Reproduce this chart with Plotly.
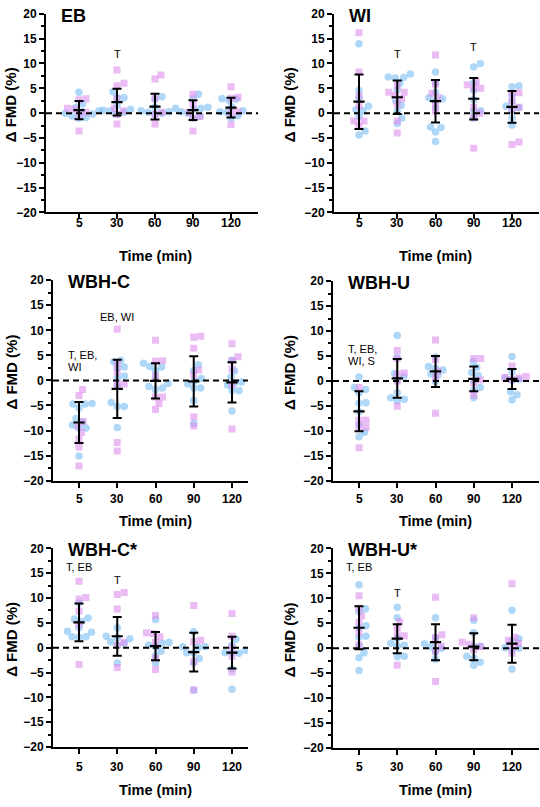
import plotly.graph_objects as go

# ---------------- data ----------------
times = ["5", "30", "60", "90", "120"]
panel_names = ["EB", "WI", "WBH-C", "WBH-U", "WBH-C*", "WBH-U*"]

eb_blue = [[4.2, 1.9, 1.2, 0.5, 0.3, 0.0, -0.2, -0.6, -0.9, -1.0],
           [4.3, 3.1, 3.1, 1.6, 0.8, 0.6, 0.5, 0.2, -0.2],
           [3.3, 2.8, 1.2, 1.0, 0.5, 0.3, 0.2, 0.0, -0.2],
           [3.8, 2.9, 1.2, 1.0, 0.8, 0.3, 0.0, -0.6, -1.0],
           [2.9, 2.8, 2.6, 1.3, 0.5, 0.3, 0.2, -0.5, -1.0]]
eb_pink = [[2.9, 2.7, 1.0, 0.8, 0.2, -0.3, -3.6],
           [8.7, 6.0, 5.5, 2.9, 1.0, 0.5, -0.3, -2.2],
           [7.7, 6.9, 3.0, 0.2, -0.3, -2.2],
           [3.8, 1.8, 0.2, -0.7, -1.0, -3.6],
           [5.3, 3.2, 3.0, 0.3, 0.1, -2.3]]
eb_mean = [0.6, 2.2, 1.3, 0.6, 1.1]
eb_sd = [1.85, 2.7, 2.6, 2.0, 2.0]

wi_blue = [[14.0, 4.6, 3.1, 1.4, 0.7, 0.5, -0.7, -3.6, -4.4],
           [7.9, 7.3, 7.2, 7.1, 6.0, 4.7, 2.5, 1.6, 0.4, -1.0, -2.1],
           [8.3, 6.1, 4.2, 3.1, 2.9, 2.5, 1.1, -2.8, -2.9, -3.8, -5.7],
           [10.0, 9.3, 6.1, 4.6, 2.7, 0.5, 0.5, -1.0],
           [5.5, 5.3, 3.8, 2.4, 1.4, 1.1, 0.6, -1.0, -2.4]]
wi_pink = [[16.2, 8.3, 3.5, 1.5, -1.6, -1.6, -2.6],
           [5.5, 4.2, 4.2, 3.6, 2.9, 1.8, -1.6, -4.0],
           [11.7, 5.8, 4.0, 3.2, 1.9, 0.5],
           [6.3, 5.7, 5.0, 5.0, 1.2, 0.0, -0.8, -7.1],
           [4.1, 3.8, 2.4, 1.2, 0.8, -5.8, -6.3]]
wi_mean = [2.3, 3.2, 2.4, 2.9, 1.25]
wi_sd = [5.5, 3.4, 4.3, 4.2, 3.2]

wbhc_blue = [[-4.7, -4.6, -4.7, -5.5, -7.6, -8.9, -9.5, -9.5, -8.3, -15.1],
             [4.0, 3.7, 2.7, 2.5, 0.9, 0.5, -1.0, -4.4, -5.2, -5.2, -9.4],
             [3.4, 2.8, 2.7, 1.9, 0.5, -0.6, -1.2, -1.5, -1.8],
             [3.1, 2.0, 0.4, -0.1, -0.7, -1.5, -1.5, -4.0, -8.6],
             [4.0, 1.9, 0.7, -0.3, -0.5, -0.9, -2.0, -2.0, -6.1]]
wbhc_pink = [[-1.8, -3.0, -8.2, -9.2, -10.4, -11.7, -13.3, -17.1],
             [10.2, 3.2, 1.7, -0.7, -0.7, -12.4, -14.1],
             [8.0, 3.9, 3.8, 0.9, -3.3, -3.3, -4.6, -5.8],
             [8.8, 8.6, 6.4, 2.1, 1.1, -7.3, -9.1],
             [7.3, 4.7, 3.9, 2.3, -0.9, -9.7]]
wbhc_mean = [-8.4, -1.7, -0.1, -0.2, -0.4]
wbhc_sd = [4.1, 5.8, 3.5, 5.0, 4.0]

wbhu_blue = [[0.8, -1.3, -1.7, -2.4, -4.4, -4.5, -6.2, -8.8, -10.3, -11.2],
             [9.1, 4.7, 1.5, 0.9, 0.2, -2.4, -3.4, -3.7, -4.0],
             [4.8, 2.9, 2.6, 2.2, 1.4, 1.2, -0.1],
             [3.9, 2.7, 1.7, 1.1, 0.0, -1.3, -1.9, -3.4],
             [4.9, 1.8, 0.6, 0.3, 0.1, -2.2, -2.8, -3.8]]
wbhu_pink = [[-1.3, -7.9, -7.9, -9.3, -9.3, -13.4],
             [6.1, 4.5, 1.6, 1.4, 0.0, -5.1],
             [8.2, 4.3, 2.0, 0.7, -6.5],
             [4.5, 4.5, 0.2, -0.4, -2.9],
             [3.0, 0.9, 0.7, 0.6, 0.3]]
wbhu_mean = [-6.1, 0.5, 1.9, 0.4, 0.4]
wbhu_sd = [4.0, 3.9, 3.1, 2.5, 2.0]

wbhcs_blue = [[9.0, 6.0, 5.8, 5.3, 4.0, 3.3, 3.1, 2.2, 2.2, 2.1],
              [4.0, 2.3, 2.0, 1.8, 1.2, 0.9, 0.5, -3.1],
              [5.7, 1.1, 0.9, 0.5, 0.2, -0.7, -1.6, -3.1],
              [3.2, 0.2, 0.2, 0.1, -1.0, -1.0, -2.2, -3.1, -8.6],
              [1.7, 0.5, -0.5, -1.0, -1.1, -1.1, -4.3, -8.4]]
wbhcs_pink = [[13.4, 10.1, 9.8, 7.4, 4.7, -3.4],
              [11.1, 10.7, 7.8, 1.1, 0.5, -4.0],
              [6.5, 3.0, 2.8, 2.2, 1.1, -2.2, -4.4],
              [8.5, 1.5, 1.2, -2.8, -8.5],
              [6.9, 2.3, 0.0, -1.8, -4.9]]
wbhcs_mean = [5.1, 2.3, 0.3, -0.9, -1.0]
wbhcs_sd = [3.8, 3.9, 2.85, 3.9, 3.2]

wbhus_blue = [[12.7, 7.9, 7.3, 4.5, 4.1, 2.4, 2.2, 0.5, -0.9, -1.9, -4.5],
              [8.2, 6.1, 2.0, 1.0, 0.6, 0.4, -1.6, -1.7],
              [6.1, 2.1, 0.9, 0.3, 0.0, -0.8, -2.2],
              [5.6, 3.1, 0.4, 0.3, -1.6, -2.0, -2.8, -3.4],
              [7.6, 1.9, 1.5, 0.1, 0.0, -0.4, -4.2]]
wbhus_pink = [[10.5, 8.0, 6.5, 5.2, 3.2, 0.7],
              [5.3, 4.0, 2.5, 2.5, -3.4],
              [10.2, 2.7, 2.1, 0.4, -0.5, -6.7],
              [6.1, 1.2, 0.8, 0.3, -0.3],
              [12.9, 2.2, 1.6, 1.0, 0.4, -1.0]]
wbhus_mean = [4.1, 1.9, 1.2, 0.3, 0.9]
wbhus_sd = [4.3, 2.9, 3.6, 2.7, 3.8]

# significance labels: (text lines, time index, value)
eb_notes = [(["T"], 1, 11.9)]
wi_notes = [(["T"], 1, 11.9), (["T"], 3, 13.3)]
wbhc_notes = [(["T, EB,", "WI"], 0, 5.1), (["EB, WI"], 1, 12.7)]
wbhu_notes = [(["T, EB,", "WI, S"], 0, 6.3)]
wbhcs_notes = [(["T, EB"], 0, 16.2), (["T"], 1, 13.7)]
wbhus_notes = [(["T, EB"], 0, 16.3), (["T"], 1, 11.1)]

blues = [eb_blue, wi_blue, wbhc_blue, wbhu_blue, wbhcs_blue, wbhus_blue]
pinks = [eb_pink, wi_pink, wbhc_pink, wbhu_pink, wbhcs_pink, wbhus_pink]
means = [eb_mean, wi_mean, wbhc_mean, wbhu_mean, wbhcs_mean, wbhus_mean]
sds = [eb_sd, wi_sd, wbhc_sd, wbhu_sd, wbhcs_sd, wbhus_sd]
notes = [eb_notes, wi_notes, wbhc_notes, wbhu_notes, wbhcs_notes, wbhus_notes]

# ---------------- layout geometry (pixels) ----------------
W, H = 540, 807
# x0 (y-axis line), x1 (x-axis end), ytop (=20), ybot (=-20), c0 (first category px), spacing
geom = [
    (46, 258, 7, 209, 79, 38.0),
    (334, 539, 7, 209, 359, 38.25),
    (53, 248, 278, 482, 79, 38.25),
    (333, 539, 279, 482, 359, 38.25),
    (53, 248, 551, 753, 79, 38.25),
    (333, 539, 551, 754, 359, 38.25),
]
ytitle_x = [10, 289, 12, 289, 12, 289]
xlab_off = [11, 11, 19, 19, 20, 19]
xtitle_off = [44, 44, 41, 41, 44, 43]

FONT = "Liberation Sans, Arial, sans-serif"
BLUE = "rgba(125,190,243,0.62)"
PINK = "rgba(222,145,238,0.62)"


def px(x):
    return x / W


def py(y):
    return 1 - y / H


def swarm(vals, ypx, xpx, diam=7.0, step=0.5):
    """Simple beeswarm: returns x offsets (category units)."""
    order = sorted(range(len(vals)), key=lambda i: vals[i])
    placed = []
    res = [0.0] * len(vals)
    cands = [0.0]
    k = 1
    while k * step <= 30:
        cands += [k * step, -k * step]
        k += 1
    for i in order:
        yv = vals[i] * ypx
        chosen = cands[-1]
        for c in cands:
            if all((c - a) ** 2 + (yv - b) ** 2 >= diam ** 2 for a, b in placed):
                chosen = c
                break
        placed.append((chosen, yv))
        res[i] = chosen / xpx
    return res


fig = go.Figure()
layout = dict(
    width=W, height=H, margin=dict(l=0, r=0, t=0, b=0),
    paper_bgcolor="white", plot_bgcolor="white", showlegend=False,
    font=dict(family=FONT, color="black"),
)
annotations = []
shapes = []
bold12 = dict(family=FONT, size=12, color="black", weight="bold")

for p in range(6):
    x0, x1, ytop, ybot, c0, sp = geom[p]
    n = p + 1
    xa = "x" if n == 1 else f"x{n}"
    ya = "y" if n == 1 else f"y{n}"
    rlo = -(c0 - x0) / sp
    rhi = (x1 - c0) / sp
    ypx = (ybot - ytop) / 40.0

    for t in range(5):
        ob = swarm(blues[p][t], ypx, sp)
        op = swarm(pinks[p][t], ypx, sp)
        fig.add_trace(go.Scatter(
            x=[t + o for o in ob], y=blues[p][t], mode="markers",
            marker=dict(symbol="circle", size=7.5, color=BLUE, line=dict(width=0)),
            xaxis=xa, yaxis=ya, hoverinfo="skip"))
        fig.add_trace(go.Scatter(
            x=[t + o for o in op], y=pinks[p][t], mode="markers",
            marker=dict(symbol="square", size=7, color=PINK, line=dict(width=0)),
            xaxis=xa, yaxis=ya, hoverinfo="skip"))

    fig.add_trace(go.Scatter(
        x=list(range(5)), y=means[p], mode="markers",
        marker=dict(symbol="line-ew", size=8, color="black",
                    line=dict(width=2.2, color="black")),
        error_y=dict(type="data", array=sds[p], visible=True, color="black",
                     thickness=2, width=4.5),
        xaxis=xa, yaxis=ya, hoverinfo="skip"))

    layout["xaxis" if n == 1 else f"xaxis{n}"] = dict(
        domain=[px(x0), px(x1)], range=[rlo, rhi], anchor=ya,
        tickmode="array", tickvals=list(range(5)), ticktext=times,
        showticklabels=False,
        showline=True, linecolor="black", linewidth=2,
        ticks="outside", ticklen=5, tickwidth=2, tickcolor="black",
        showgrid=False, zeroline=False, fixedrange=True)
    layout["yaxis" if n == 1 else f"yaxis{n}"] = dict(
        domain=[py(ybot), py(ytop)], range=[-20, 20], anchor=xa,
        tickmode="linear", tick0=-20, dtick=5,
        showline=True, linecolor="black", linewidth=2,
        ticks="outside", ticklen=5, tickwidth=2, tickcolor="black",
        minor=dict(dtick=2.5, tick0=-20, ticks="outside", ticklen=3,
                   tickwidth=1.5, tickcolor="black", showgrid=False),
        tickfont=bold12,
        showgrid=False, zeroline=False, fixedrange=True)

    # x tick labels
    for t, lab in enumerate(times):
        annotations.append(dict(text=lab, xref=xa, yref="paper", x=t,
                                y=py(ybot + xlab_off[p]), xanchor="center",
                                yanchor="middle", showarrow=False, font=bold12))

    # dashed zero line
    shapes.append(dict(type="line", xref=f"{xa} domain", yref=ya,
                       x0=0, x1=1, y0=0, y1=0, layer="above",
                       line=dict(color="black", width=2, dash="6px,4px")))

    # panel title
    annotations.append(dict(text=panel_names[p], xref="paper", yref="paper",
                            x=px(x0 + 13), y=py(ytop + 2), xanchor="left", yanchor="middle",
                            showarrow=False,
                            font=dict(family=FONT, size=18, color="black", weight="bold")))
    # axis titles
    annotations.append(dict(text="Time (min)", xref="paper", yref="paper",
                            x=px((c0 + c0 + 4 * sp) / 2), y=py(ybot + xtitle_off[p]),
                            xanchor="center", yanchor="middle", showarrow=False,
                            font=dict(family=FONT, size=14.5, color="black", weight="bold")))
    annotations.append(dict(text="Δ FMD (%)", xref="paper", yref="paper",
                            x=px(ytitle_x[p]), y=py((ytop + ybot) / 2 - 8), textangle=-90,
                            xanchor="center", yanchor="middle", showarrow=False,
                            font=dict(family=FONT, size=15, color="black", weight="bold")))
    # significance notes
    for lines, ti, val in notes[p]:
        multi = len(lines) > 1
        for li, line in enumerate(lines):
            annotations.append(dict(
                text=line, xref=xa, yref=ya,
                x=(ti - 0.34) if multi else ti,
                y=val - li * 12 / ypx,
                xanchor="left" if multi else "center", yanchor="middle",
                showarrow=False,
                font=dict(family=FONT, size=11, color="black")))

layout["annotations"] = annotations
layout["shapes"] = shapes
fig.update_layout(**layout)
fig.write_html("out.html", config={"displayModeBar": False},
               post_script="document.body.style.margin='0';document.body.style.overflow='hidden';")
